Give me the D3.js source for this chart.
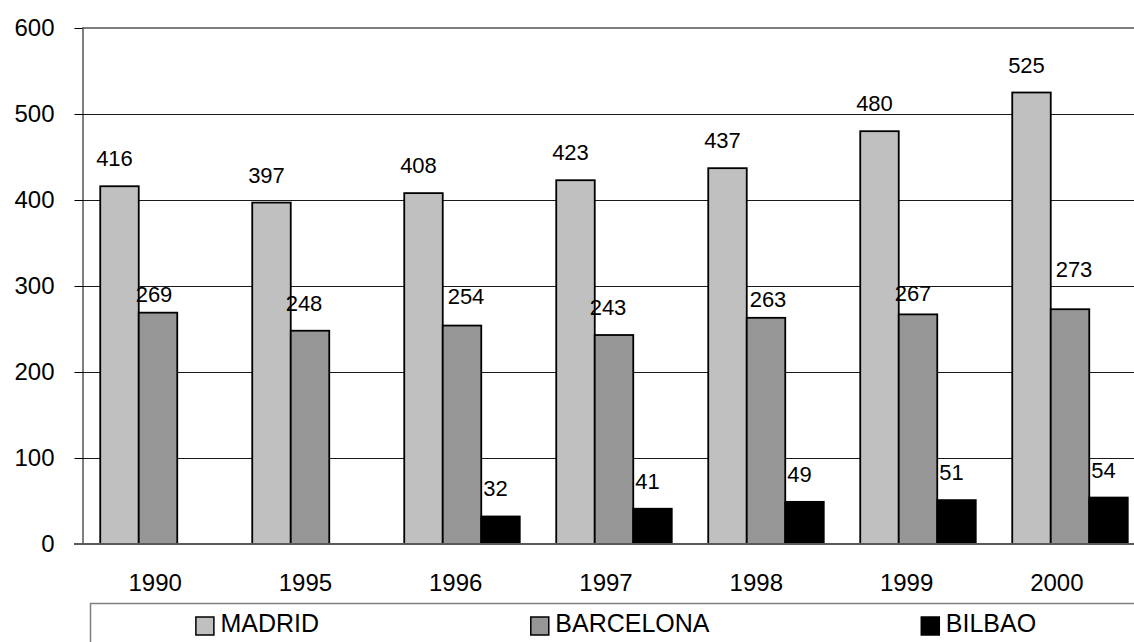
<!DOCTYPE html>
<html>
<head>
<meta charset="utf-8">
<script src="https://cdn.jsdelivr.net/npm/d3@7"></script>
<style>
  html, body { margin: 0; padding: 0; background: #fff; }
  svg { display: block; font-family: "Liberation Sans", Arial, sans-serif; }
</style>
</head>
<body>
<svg id="chart" width="1134" height="642"></svg>
<script>
// Categories and series values
const years = ["1990", "1995", "1996", "1997", "1998", "1999", "2000"];
const madrid = [416, 397, 408, 423, 437, 480, 525];
const barcelona = [269, 248, 254, 243, 263, 267, 273];
const bilbao = [null, null, 32, 41, 49, 51, 54];
const seriesNames = ["MADRID", "BARCELONA", "BILBAO"];
const yTicks = [0, 100, 200, 300, 400, 500, 600];

// Styling
const seriesFills = ["#c0c0c0", "#969696", "#000000"];
// Hand-placed nudges [dx, dy] for the BARCELONA value labels
const barcelonaNudge = [[1, 9], [-1, 0], [9, -2], [-1, 0], [7, 9], [0, 7], [9, -12]];

const series = [madrid, barcelona, bilbao];
const svg = d3.select("#chart");

const plot = { left: 82, right: 1146, top: 28, bottom: 544 };

const y = d3.scaleLinear().domain([0, 600]).range([plot.bottom, plot.top]);
const x = d3.scaleBand().domain(years).range([plot.left, plot.right]).padding(0);
const sub = d3.scaleBand().domain(d3.range(series.length))
  .range([x.bandwidth() * 0.12, x.bandwidth() * 0.88]).padding(0);
// Category label positions
const xLabel = d3.scaleBand().domain(years).range([80, 1132]).padding(0);

const crisp = v => Math.round(v) + 0.5;

// Horizontal gridlines
svg.append("g").selectAll("line")
  .data(yTicks.filter(t => t > 0 && t < 600))
  .join("line")
  .attr("x1", plot.left).attr("x2", plot.right)
  .attr("y1", d => crisp(y(d))).attr("y2", d => crisp(y(d)))
  .attr("stroke", "#1a1a1a").attr("stroke-width", 1);

// Top border of plot area
svg.append("line")
  .attr("x1", plot.left).attr("x2", plot.right)
  .attr("y1", y(600)).attr("y2", y(600))
  .attr("stroke", "#7f7f7f").attr("stroke-width", 2);

// Bars
const rows = years.map((yr, j) => ({ yr, j }));
series.forEach((vals, i) => {
  svg.append("g").selectAll("rect")
    .data(rows.filter(r => vals[r.j] != null))
    .join("rect")
    .attr("x", r => x(r.yr) + sub(i))
    .attr("y", r => y(vals[r.j]))
    .attr("width", sub.bandwidth())
    .attr("height", r => y(0) - y(vals[r.j]))
    .attr("fill", seriesFills[i])
    .attr("stroke", "#000")
    .attr("stroke-width", 1.8);
});

// Value labels
series.forEach((vals, i) => {
  svg.append("g").selectAll("text")
    .data(rows.filter(r => vals[r.j] != null))
    .join("text")
    .attr("x", r => x(r.yr) + sub(i) + sub.bandwidth() / 2 - 5 + (i === 1 ? barcelonaNudge[r.j][0] : 0))
    .attr("y", r => y(vals[r.j]) - 20 + (i === 1 ? barcelonaNudge[r.j][1] : 0))
    .attr("text-anchor", "middle")
    .attr("font-size", 22)
    .attr("fill", "#000")
    .text(r => vals[r.j]);
});

// Y axis
const yAxis = svg.append("g")
  .attr("transform", `translate(${plot.left + 0.5},0)`)
  .call(d3.axisLeft(y).tickValues(yTicks).tickSize(8).tickSizeOuter(0).tickPadding(20));
yAxis.select(".domain").attr("stroke", "#000").attr("stroke-width", 1);
yAxis.selectAll(".tick line").attr("stroke", "#000");
yAxis.selectAll(".tick text")
  .attr("font-size", 24).attr("fill", "#000")
  .attr("font-family", "Liberation Sans, Arial, sans-serif");

// Baseline (category axis line)
svg.append("line")
  .attr("x1", plot.left - 8).attr("x2", plot.right)
  .attr("y1", y(0)).attr("y2", y(0))
  .attr("stroke", "#5a5a5a").attr("stroke-width", 2);

// Category labels
const xAxis = svg.append("g")
  .attr("transform", `translate(0,${y(0)})`)
  .call(d3.axisBottom(xLabel).tickSize(0).tickPadding(30));
xAxis.select(".domain").remove();
xAxis.selectAll(".tick text")
  .attr("font-size", 24).attr("fill", "#000")
  .attr("font-family", "Liberation Sans, Arial, sans-serif");

// Legend
const legend = { left: 90, top: 603, width: 1052, height: 80 };
svg.append("rect")
  .attr("x", legend.left + 0.5).attr("y", legend.top + 0.5)
  .attr("width", legend.width).attr("height", legend.height)
  .attr("fill", "#fff").attr("stroke", "#7f7f7f").attr("stroke-width", 1.5);

const sw = 18, gapText = 6.5;
const items = svg.append("g").selectAll("g")
  .data(seriesNames)
  .join("g");
items.append("rect")
  .attr("x", 0).attr("y", 617)
  .attr("width", sw).attr("height", sw)
  .attr("fill", (d, i) => seriesFills[i])
  .attr("stroke", "#000").attr("stroke-width", 1.5);
items.append("text")
  .attr("x", sw + gapText).attr("y", 632)
  .attr("font-size", 25).attr("fill", "#000")
  .text(d => d);

const widths = items.nodes().map(n => sw + gapText + n.querySelector("text").getComputedTextLength());
const gap = (legend.width - d3.sum(widths)) / widths.length;
let cursor = legend.left + gap / 2;
items.each(function (d, i) {
  d3.select(this).attr("transform", `translate(${cursor},0)`);
  cursor += widths[i] + gap;
});
</script>
</body>
</html>
